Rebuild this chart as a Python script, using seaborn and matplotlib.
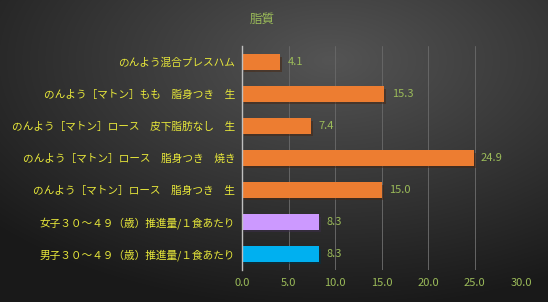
import numpy as np
import pandas as pd
import matplotlib
matplotlib.use("Agg")
import matplotlib.pyplot as plt
import matplotlib.patheffects as pe
import seaborn as sns

categories = [
    "のんよう混合プレスハム",
    "のんよう［マトン］もも　脂身つき　生",
    "のんよう［マトン］ロース　皮下脂肪なし　生",
    "のんよう［マトン］ロース　脂身つき　焼き",
    "のんよう［マトン］ロース　脂身つき　生",
    "女子３０～４９（歳）推進量/１食あたり",
    "男子３０～４９（歳）推進量/１食あたり",
]
values = [4.1, 15.3, 7.4, 24.9, 15.0, 8.3, 8.3]
bar_colors = ["#ED7D31", "#ED7D31", "#ED7D31", "#ED7D31", "#ED7D31", "#CC99FF", "#00B0F0"]
xticks = [0, 5, 10, 15, 20, 25, 30]
title = "脂質"

sns.set_theme(style="dark")
plt.rcParams['font.family'] = ['Noto Sans CJK JP', 'DejaVu Sans']

fig = plt.figure(figsize=(5.48, 3.02), dpi=100)

# background gradient
bg = fig.add_axes([0, 0, 1, 1], zorder=-10)
yy, xx = np.mgrid[0:302, 0:548]
cx, cy = 330, 60
d = np.sqrt(((xx - cx) / 548) ** 2 + ((yy - cy) / 302) ** 2)
lum = 0.33 - 0.28 * d
lum = np.clip(lum, 0.1, 0.35)
bg.imshow(np.dstack([lum, lum, lum]), aspect='auto', extent=[0, 1, 0, 1])
bg.axis('off')

ax = fig.add_axes([242 / 548, 1 - 270 / 302, (521 - 242) / 548, 224 / 302])
ax.set_facecolor("none")
df = pd.DataFrame({"cat": categories, "val": values})
sns.barplot(data=df, y="cat", x="val", hue="cat", palette=bar_colors, orient="h",
            width=0.47, ax=ax, legend=False, saturation=1)

for p in ax.patches:
    p.set_path_effects([pe.SimplePatchShadow(offset=(1.5, -1.5), alpha=0.5), pe.Normal()])
    p.set_edgecolor("none")

for i, v in enumerate(values):
    ax.text(v + 0.8, i, f"{v:.1f}", va="center", ha="left", color="#9BBB59", fontsize=8)

ax.set_xlim(0, 30)
ax.set_ylim(6.5, -0.5)
ax.set_xticks(xticks)
ax.set_xticklabels([f"{t:.1f}" for t in xticks], color="#9BBB59", fontsize=8)
ax.tick_params(axis='x', length=0, pad=6)
ax.set_yticks(range(len(categories)))
ax.set_yticklabels(categories, color="#E8E83A", fontsize=7.7)
ax.tick_params(axis='y', length=0, pad=5)
ax.set_xlabel("")
ax.set_ylabel("")
ax.grid(axis='x', color="#666666", linewidth=0.7)
ax.grid(axis='y', visible=False)
ax.set_axisbelow(True)
for s in ["top", "right", "bottom"]:
    ax.spines[s].set_visible(False)
ax.spines["left"].set_visible(True)
ax.spines["left"].set_color("#BFBFBF")
ax.spines["left"].set_linewidth(1)

fig.text(262 / 548, 1 - 19 / 302, title, ha="center", va="center", color="#9BBB59", fontsize=9)

fig.savefig("out.png", dpi=100)
